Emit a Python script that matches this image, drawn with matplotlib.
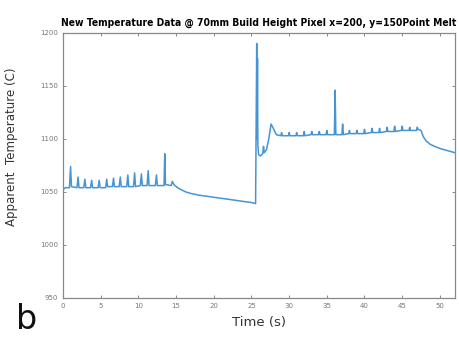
import matplotlib
matplotlib.use("Agg")
import matplotlib.pyplot as plt

# time (s) and apparent temperature (C)
time = [0.0, 0.3, 0.85, 1.0, 1.12, 1.85, 2.0, 2.12, 2.75, 2.9, 3.02, 3.65, 3.8,
        3.92, 4.65, 4.8, 4.92, 5.65, 5.8, 5.92, 6.55, 6.7, 6.82, 7.45, 7.6, 7.72,
        8.45, 8.6, 8.72, 9.35, 9.5, 9.62, 10.25, 10.4, 10.52, 11.15, 11.3, 11.42,
        12.25, 12.4, 12.52, 13.4, 13.5, 13.6, 14.35, 14.5, 14.7, 15.2, 15.7,
        16.3, 17.0, 18.0, 19.0, 20.0, 21.0, 22.0, 23.0, 24.0, 25.0, 25.55, 25.7,
        25.75, 25.8, 25.85, 25.95, 26.2, 26.5, 26.6, 26.7, 27.0, 27.3, 27.6,
        27.9, 28.3,
        28.9, 29.0, 29.1, 29.9, 30.0, 30.1, 30.9, 31.0, 31.1, 31.9, 32.0, 32.1,
        32.9, 33.0, 33.1, 33.9, 34.0, 34.1, 34.9, 35.0, 35.1, 36.0, 36.1, 36.2,
        37.0, 37.1, 37.2, 37.9, 38.0, 38.1, 38.9, 39.0, 39.1, 39.9, 40.0, 40.1,
        40.9, 41.0, 41.1, 41.9, 42.0, 42.1, 42.9, 43.0, 43.1, 43.9, 44.0, 44.1,
        44.9, 45.0, 45.1, 45.9, 46.0, 46.1, 46.9, 47.0, 47.1, 47.5, 47.8, 48.2,
        48.7, 49.3, 50.0, 51.0, 52.0]
temp = [1052, 1054, 1054, 1074, 1055, 1054, 1064, 1054, 1054, 1062, 1054, 1054,
        1061, 1054, 1054, 1061, 1054, 1054, 1062, 1055, 1055, 1063, 1055, 1055,
        1064, 1055, 1055, 1066, 1055, 1055, 1068, 1055, 1056, 1067, 1056, 1056,
        1070, 1056, 1056, 1066, 1056, 1056, 1086, 1057, 1056, 1060, 1057, 1054,
        1052, 1050, 1048.5, 1047, 1046, 1045, 1044, 1043, 1042, 1041, 1040,
        1039, 1190, 1100, 1176, 1095, 1085, 1084, 1086, 1093, 1087, 1090, 1100,
        1114, 1110, 1104,
        1103, 1106, 1103, 1103, 1106, 1103, 1103, 1106, 1103, 1103, 1107, 1103,
        1104, 1107, 1104, 1104, 1107, 1104, 1104, 1108, 1104, 1104, 1146, 1104,
        1104, 1114, 1104, 1105, 1108, 1105, 1105, 1108, 1105, 1105, 1109, 1105,
        1106, 1110, 1106, 1106, 1110, 1106, 1107, 1111, 1107, 1107, 1112, 1107,
        1108, 1112, 1108, 1108, 1111, 1108, 1108, 1111, 1109, 1108, 1102, 1098,
        1095, 1093, 1091, 1089, 1087]

xticks = list(range(0, 55, 5))
yticks = list(range(950, 1250, 50))

fig = plt.figure(figsize=(4.6, 3.39), dpi=100)
ax = fig.add_axes([0.137, 0.121, 0.852, 0.782])

ax.plot(time, temp, color="#4694d4", linewidth=1.1)

ax.set_xlim(0, 52)
ax.set_ylim(950, 1200)
ax.set_xticks(xticks)
ax.set_yticks(yticks)
ax.tick_params(direction="in", top=True, right=True, labelsize=5,
               labelcolor="#777777", length=2.5, color="#777777", width=0.6)
for s in ax.spines.values():
    s.set_color("#888888")
    s.set_linewidth(0.9)

ax.set_title("New Temperature Data @ 70mm Build Height Pixel x=200, y=150Point Melt",
             fontsize=7.4, fontweight="bold", family="DejaVu Sans",
             fontstretch="condensed", pad=5)
ax.set_xlabel("Time (s)", fontsize=9.5, color="#333333", labelpad=5)
ax.set_ylabel("Apparent  Temperature (C)", fontsize=8.5, color="#333333")
ax.yaxis.set_label_coords(-0.115, 0.57)

fig.text(0.035, 0.03, "b", fontsize=24, color="#111111")

fig.savefig("out.png", dpi=100)
